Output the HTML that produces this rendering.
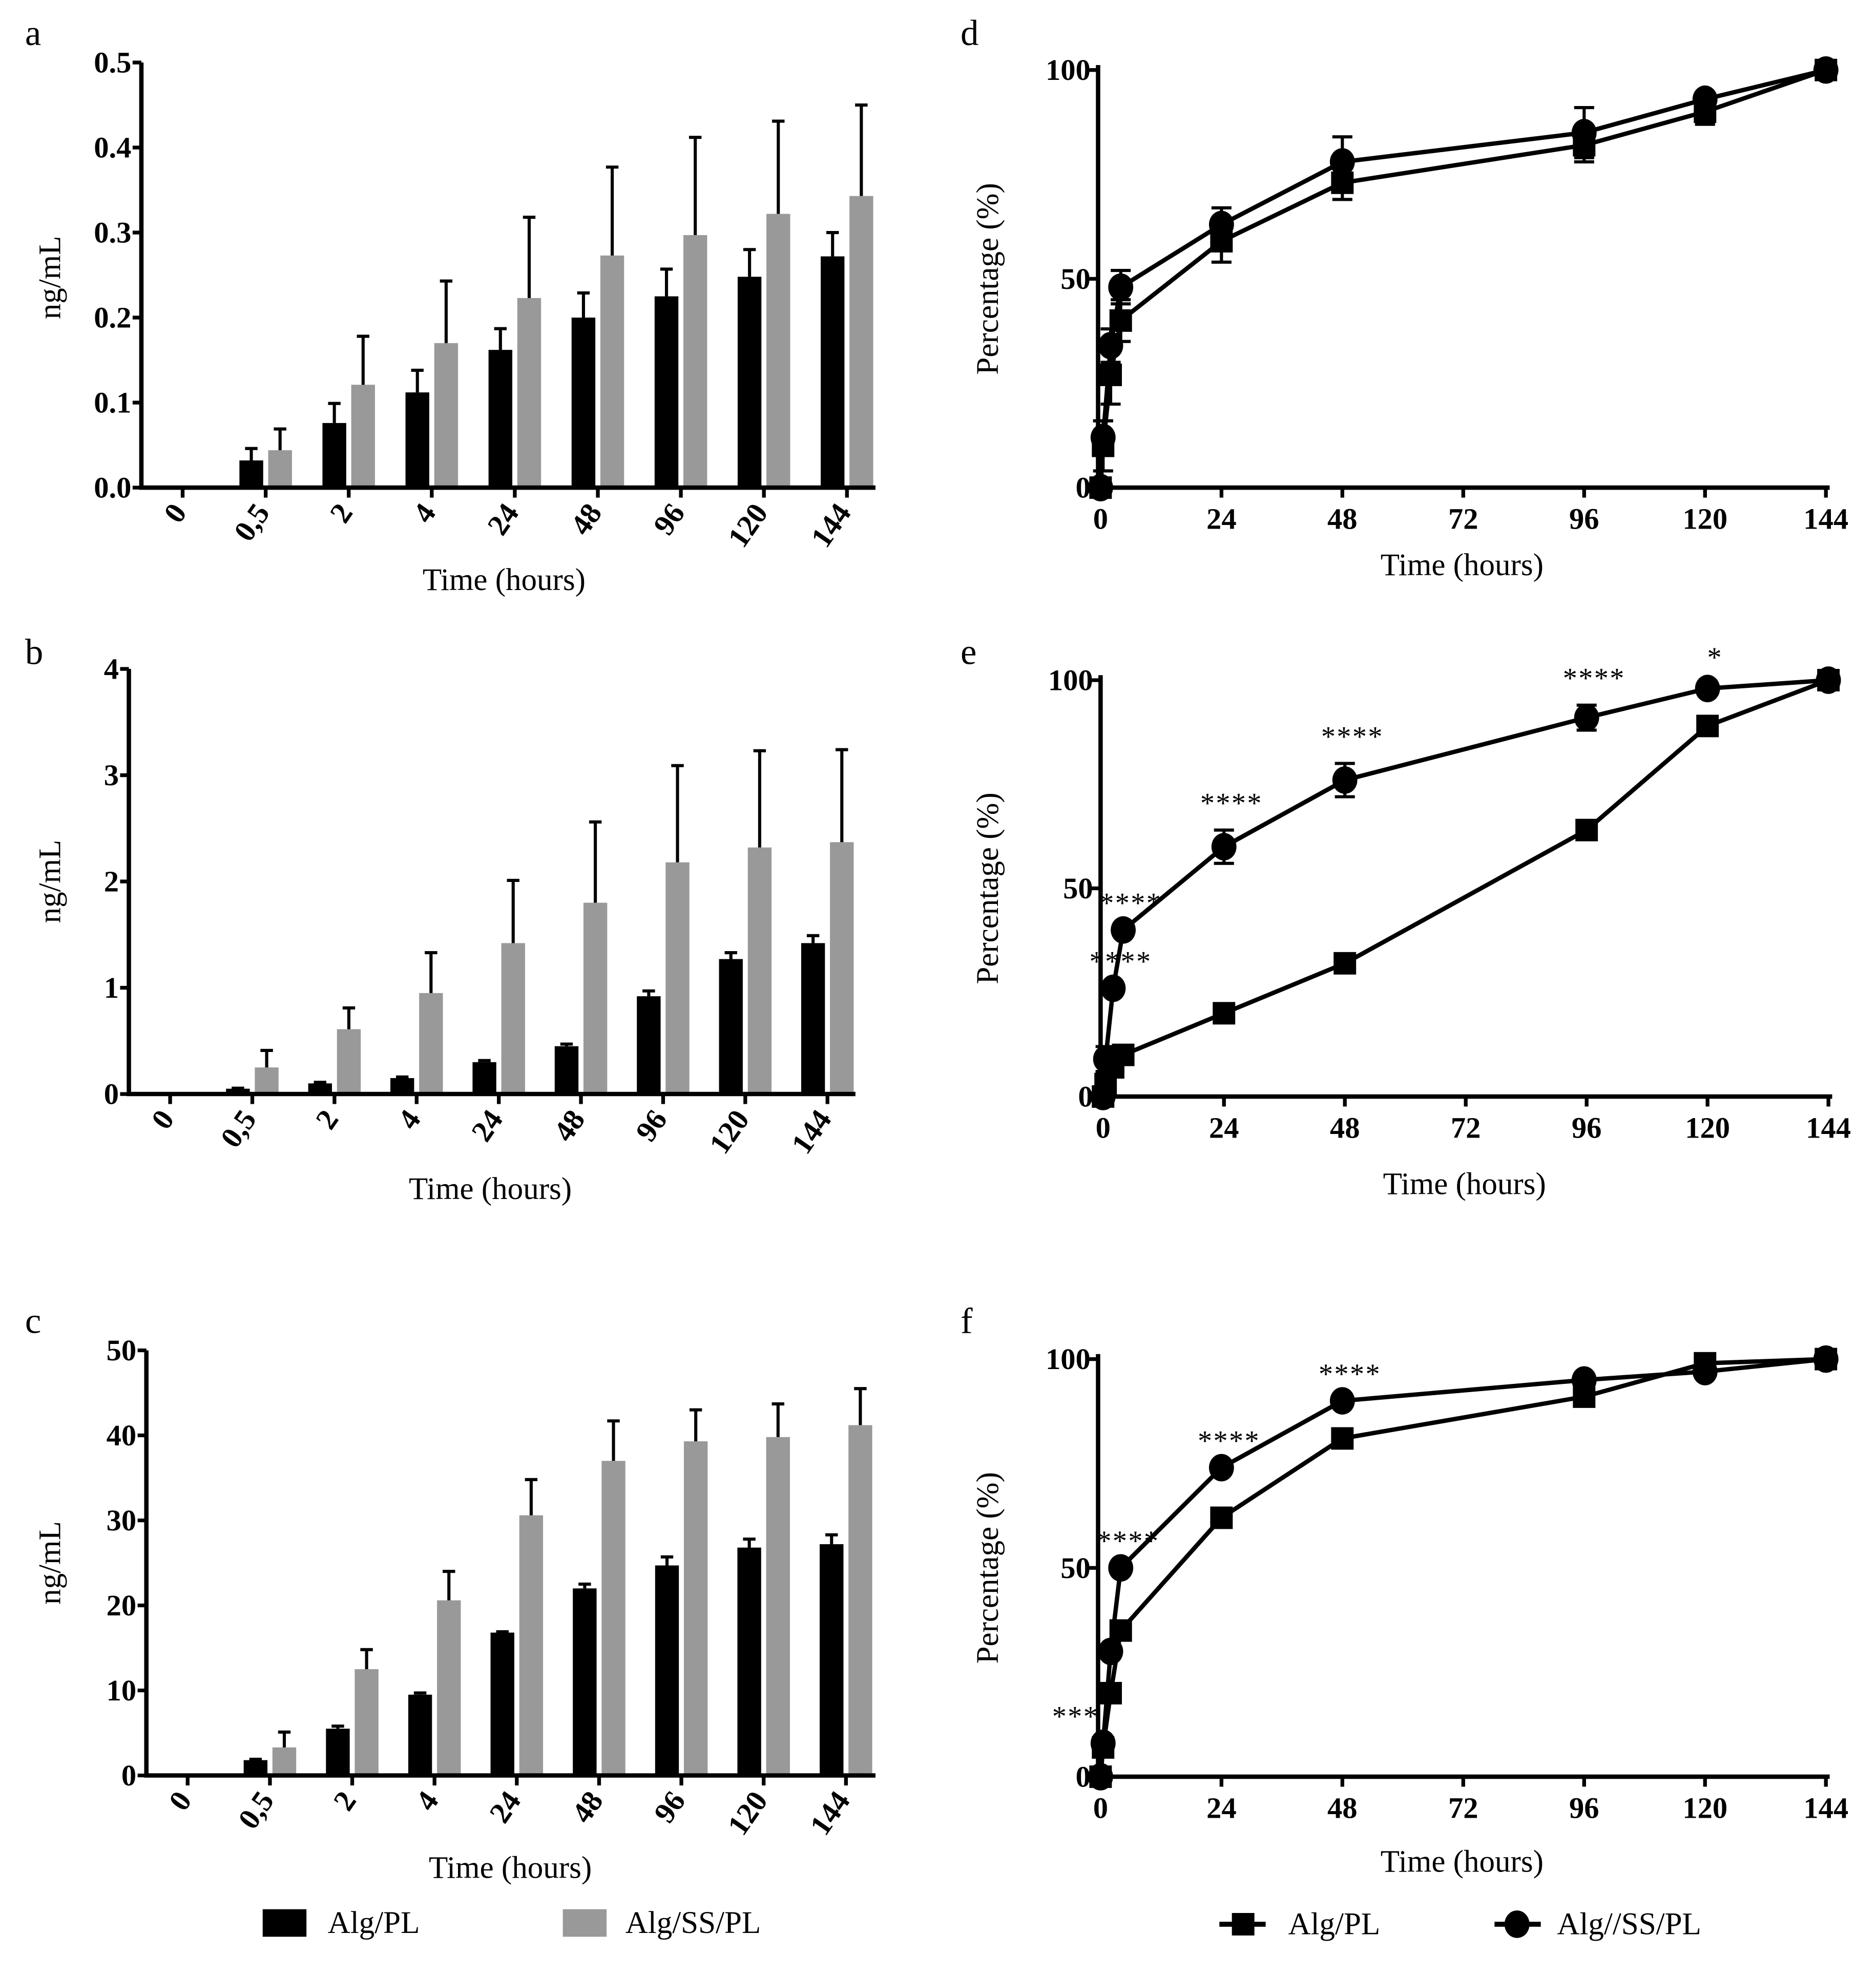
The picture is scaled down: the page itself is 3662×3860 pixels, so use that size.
<!DOCTYPE html>
<html><head><meta charset="utf-8">
<style>
html,body{margin:0;padding:0;background:#fff;}
svg{display:block;}
text{font-family:"Liberation Serif",serif;fill:#000;}
.tick{font-weight:bold;font-size:24px;}
.title{font-size:25px;}
.plabel{font-size:29px;}
.star{font-size:23px;letter-spacing:1px;}
</style></head>
<body>
<svg id="fig" width="3662" height="3860" viewBox="0 0 1500 1581.2" xmlns="http://www.w3.org/2000/svg"></svg>
<script>
// ---------- data ----------
const barCategories = ["0","0,5","2","4","24","48","96","120","144"];
const aPL = [0,0.032,0.076,0.112,0.162,0.200,0.225,0.248,0.272];
const aPLerr = [0,0.014,0.023,0.026,0.025,0.029,0.032,0.032,0.028];
const aSS = [0,0.044,0.121,0.170,0.223,0.273,0.297,0.322,0.343];
const aSSerr = [0,0.025,0.057,0.073,0.095,0.104,0.115,0.109,0.107];
const bPL = [0,0.05,0.10,0.15,0.30,0.45,0.92,1.27,1.42];
const bPLerr = [0,0.005,0.01,0.01,0.015,0.02,0.05,0.06,0.07];
const bSS = [0,0.25,0.61,0.95,1.42,1.80,2.18,2.32,2.37];
const bSSerr = [0,0.16,0.20,0.38,0.59,0.76,0.91,0.91,0.87];
const cPL = [0,1.8,5.5,9.5,16.8,22.0,24.7,26.8,27.2];
const cPLerr = [0,0.1,0.3,0.2,0.1,0.5,1.0,1.0,1.1];
const cSS = [0,3.3,12.5,20.6,30.6,37.0,39.3,39.8,41.2];
const cSSerr = [0,1.8,2.3,3.4,4.2,4.7,3.7,3.9,4.3];
const aTicks = ["0.0","0.1","0.2","0.3","0.4","0.5"];
const bTicks = ["0","1","2","3","4"];
const cTicks = ["0","10","20","30","40","50"];

const timeX = [0,0.5,2,4,24,48,96,120,144];
const xTicks = [0,24,48,72,96,120,144];
const pTicks = [0,50,100];
const dPL = [0,10,27,40,59,73,82,90,100];
const dPLerr = [0,6,7,5,5,4,4,3,1];
const dSS = [0,12,34,48,63,78,85,93,100];
const dSSerr = [0,4,4,4,4,6,6,1,1];
const ePL = [0,3,7,10,20,32,64,89,100];
const ePLerr = [0,3,0,0,0,0,0,0,0];
const eSS = [0,9,26,40,60,76,91,98,100];
const eSSerr = [0,3,0,0,4,4,3,1,0];
const eStars = ["","","****","****","****","****","****","*",""];
const fPL = [0,7,20,35,62,81,91,99,100];
const fPLerr = [0,0,0,0,0,1,0,0,0];
const fSS = [0,8,30,50,74,90,95,97,100];
const fSSerr = [0,0,0,0,0,0,0,0,0];
const fStars = ["","***","","****","****","****","","",""];

// ---------- helpers ----------
const NS="http://www.w3.org/2000/svg";
const svg=document.getElementById('fig');
function mk(tag,attrs,parent){const e=document.createElementNS(NS,tag);for(const k in attrs)e.setAttribute(k,attrs[k]);(parent||svg).appendChild(e);return e;}
function txt(s,attrs,parent){const e=mk('text',attrs,parent);e.textContent=s;return e;}

function barPanel(id,letter,L,X0,X1,Y0,Y1,ymax,ticks,t0,step,pl,plErr,ss,ssErr,labelY,titleX,titleY,ylabX,ylabY,lettY){
  const g=mk('g',{});
  
  
  const y=v=>Y0-(v/ymax)*(Y0-Y1);
  const x=i=>t0+i*step;
  const pL=txt(letter,{x:20,y:lettY,class:'plabel'},g);
  
  
  for(let i=0;i<pl.length;i++){
    const bw=19;
    if(pl[i]>0){
      const r=mk('rect',{x:x(i)-bw-2,y:y(pl[i]),width:bw,height:Y0-y(pl[i]),fill:'#000'},g);
      
      
      const top=y(pl[i]+plErr[i]);
      const cx=x(i)-2-bw/2;
      const eb=mk('path',{d:`M${cx},${y(pl[i])}V${top}M${cx-5},${top}H${cx+5}`,stroke:'#000','stroke-width':2.5,fill:'none'},g);
      
      
    }
    if(ss[i]>0){
      const r=mk('rect',{x:x(i)+2,y:y(ss[i]),width:bw,height:Y0-y(ss[i]),fill:'#999'},g);
      
      
      const top=y(ss[i]+ssErr[i]);
      const cx=x(i)+2+bw/2;
      const eb=mk('path',{d:`M${cx},${y(ss[i])}V${top}M${cx-5},${top}H${cx+5}`,stroke:'#000','stroke-width':2.5,fill:'none'},g);
      
      
    }
  }
  const ax=mk('path',{d:`M${X0},${Y1}V${Y0}H${X1}`,stroke:'#000','stroke-width':3.5,fill:'none'},g);
  
  
  ticks.forEach((t,k)=>{
    const v=k*ymax/(ticks.length-1);
    mk('line',{x1:X0-7,x2:X0,y1:y(v),y2:y(v),stroke:'#000','stroke-width':3},g);
    const tl=txt(t,{x:X0-8,y:y(v)+8,'text-anchor':'end',class:'tick'},g);
    
    
  });
  barCategories.forEach((c,i)=>{
    mk('line',{x1:x(i),x2:x(i),y1:Y0,y2:Y0+8,stroke:'#000','stroke-width':3},g);
    const tl=txt(c,{x:x(i)+4,y:Y0+20,'text-anchor':'end',class:'tick',transform:`rotate(-55 ${x(i)+4} ${Y0+20})`},g);
    
    
  });
  const xt=txt('Time (hours)',{x:titleX,y:titleY,'text-anchor':'middle',class:'title'},g);
  
  
  const yt=txt('ng/mL',{x:ylabX,y:ylabY,'text-anchor':'middle',class:'title',transform:`rotate(-90 ${ylabX} ${ylabY})`},g);
  
  
}

function linePanel(id,letter,X0,X1,Y0,Y1,pl,plErr,ss,ssErr,stars,titleY,lettY){
  const g=mk('g',{});
  
  
  const xs=v=>X0+2+v/144*(X1-X0-2);
  const ys=v=>Y0-v/100*(Y0-Y1);
  const pL=txt(letter,{x:768,y:lettY,class:'plabel'},g);
  
  
  const ax=mk('path',{d:`M${X0},${Y1-4}V${Y0}H${X1+3}`,stroke:'#000','stroke-width':3.5,fill:'none'},g);
  
  
  pTicks.forEach(t=>{
    mk('line',{x1:X0-7,x2:X0,y1:ys(t),y2:ys(t),stroke:'#000','stroke-width':3},g);
    const tl=txt(String(t),{x:X0-6,y:ys(t)+8,'text-anchor':'end',class:'tick'},g);
    
    
  });
  xTicks.forEach(t=>{
    mk('line',{x1:xs(t),x2:xs(t),y1:Y0,y2:Y0+8,stroke:'#000','stroke-width':3},g);
    const tl=txt(String(t),{x:xs(t),y:Y0+33,'text-anchor':'middle',class:'tick'},g);
    
    
  });
  function series(vals,errs,kind){
    const d=vals.map((v,i)=>(i?'L':'M')+xs(timeX[i])+','+ys(v)).join('');
    const ln=mk('path',{d:d,stroke:'#000','stroke-width':3.5,fill:'none'},g);
    
    
    vals.forEach((v,i)=>{
      const cx=xs(timeX[i]),cy=ys(v);
      if(errs[i]>0){
        const eb=mk('path',{d:`M${cx},${ys(v-errs[i])}V${ys(v+errs[i])}M${cx-8},${ys(v-errs[i])}H${cx+8}M${cx-8},${ys(v+errs[i])}H${cx+8}`,stroke:'#000','stroke-width':2.5,fill:'none'},g);
        
        
      }
      let m;
      if(kind==='alg-pl') m=mk('rect',{x:cx-9,y:cy-9,width:18,height:18,fill:'#000'},g);
      else m=mk('ellipse',{cx:cx,cy:cy,rx:10,ry:11,fill:'#000'},g);
      
      
    });
  }
  series(pl,plErr,'alg-pl');
  series(ss,ssErr,'alg-ss-pl');
  stars.forEach((s,i)=>{
    if(!s)return;
    const st=txt(s,{x:xs(timeX[i])+(s.length===3?-22:6),y:ys(ss[i]+(ssErr[i]||0))-14,'text-anchor':'middle',class:'star'},g);
    
    
  });
  const xt=txt('Time (hours)',{x:(X0+X1)/2,y:titleY,'text-anchor':'middle',class:'title'},g);
  
  
  const yx=798,yy=(Y0+Y1)/2;
  const yt=txt('Percentage (%)',{x:yx,y:yy,'text-anchor':'middle',class:'title',transform:`rotate(-90 ${yx} ${yy})`},g);
  
  
}

barPanel('a','a',0,113,700,390,50,0.5,aTicks,146,66.4,aPL,aPLerr,aSS,aSSerr,0,403,472,48,222,36);
barPanel('b','b',0,103,684,875,535,4,bTicks,136,65.7,bPL,bPLerr,bSS,bSSerr,0,392,959,48,705,531);
barPanel('c','c',0,117,700,1420,1080,50,cTicks,150,65.8,cPL,cPLerr,cSS,cSSerr,0,408,1502,48,1250,1066);
linePanel('d','d',878,1460,390,56,dPL,dPLerr,dSS,dSSerr,["","","","","","","","",""],460,36);
linePanel('e','e',880,1462,877,544,ePL,ePLerr,eSS,eSSerr,eStars,955,531);
linePanel('f','f',878,1460,1421,1087,fPL,fPLerr,fSS,fSSerr,fStars,1497,1066);

// ---------- legends ----------
const lg=mk('g',{});


const e1=mk('rect',{x:210,y:1527,width:35,height:22,fill:'#000'},lg);


const t1=txt('Alg/PL',{x:262,y:1546,class:'title'},lg);


const e2=mk('rect',{x:450,y:1527,width:35,height:22,fill:'#999'},lg);


const t2=txt('Alg/SS/PL',{x:500,y:1546,class:'title'},lg);


const l1=mk('path',{d:'M975,1539H1012',stroke:'#000','stroke-width':4},lg);


mk('rect',{x:985,y:1530,width:18,height:18,fill:'#000'},lg);
const t3=txt('Alg/PL',{x:1030,y:1547,class:'title'},lg);


const l2=mk('path',{d:'M1195,1539H1232',stroke:'#000','stroke-width':4},lg);


mk('ellipse',{cx:1213,cy:1539,rx:10,ry:11,fill:'#000'},lg);
const t4=txt('Alg//SS/PL',{x:1245,y:1547,class:'title'},lg);


</script>
</body></html>
